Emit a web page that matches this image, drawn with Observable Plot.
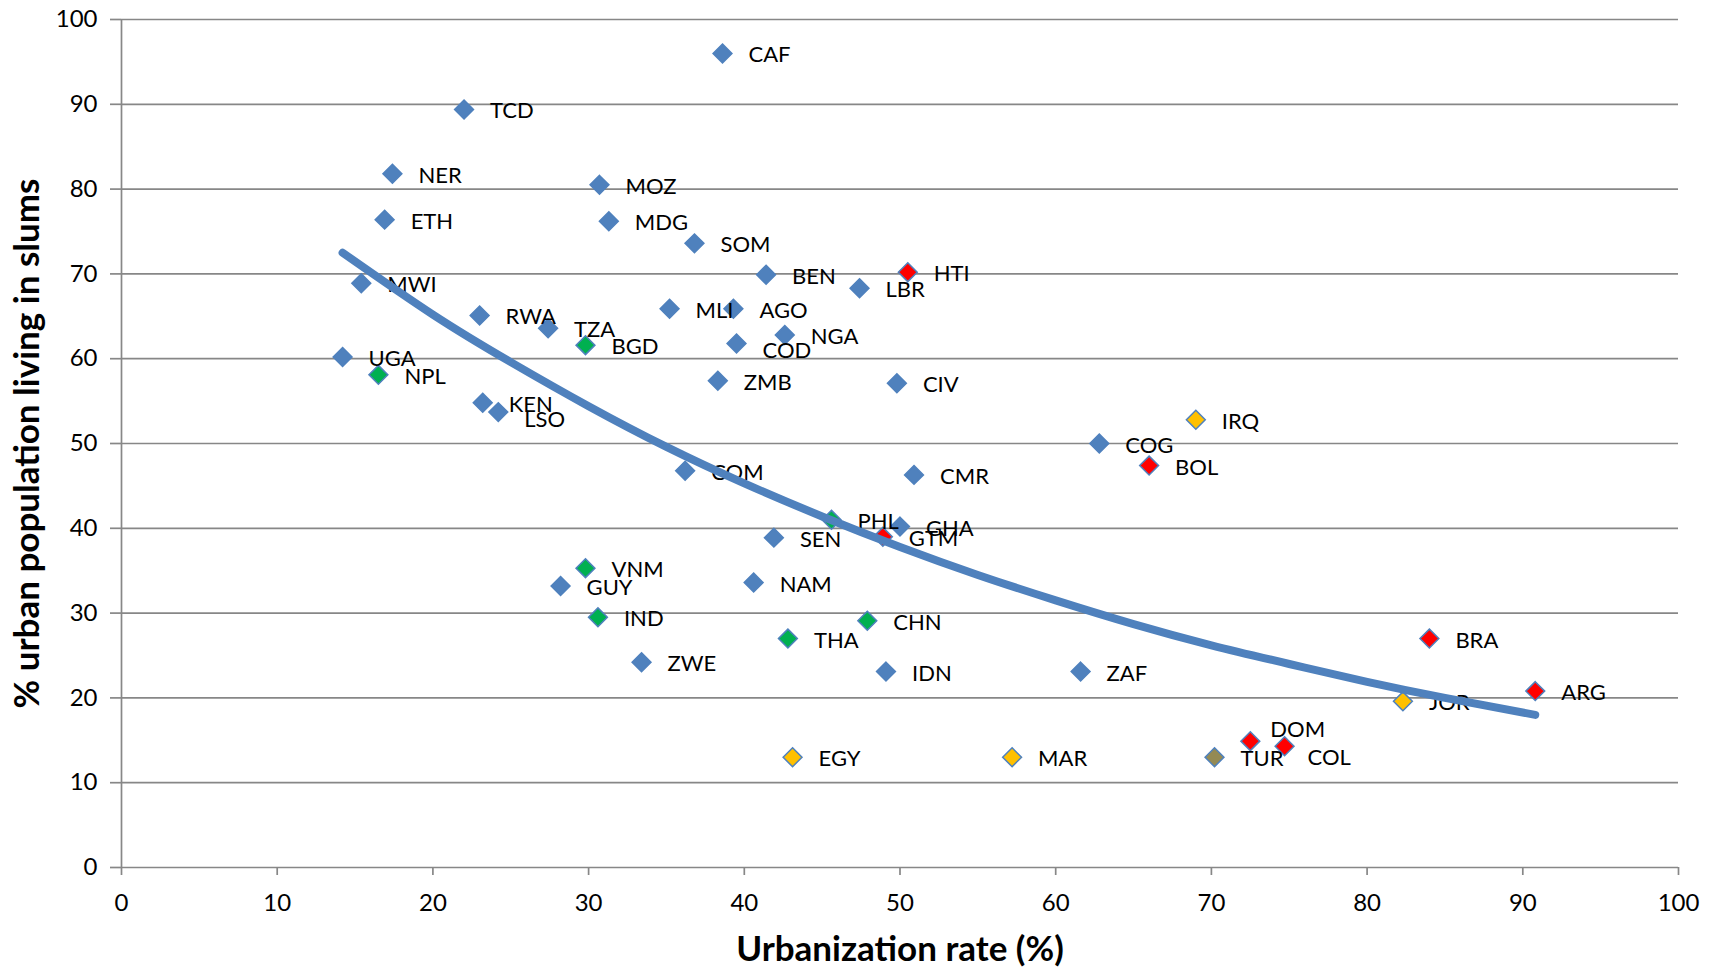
<!DOCTYPE html>
<html><head><meta charset="utf-8">
<script src="https://cdn.jsdelivr.net/npm/d3@7"></script>
<script src="https://cdn.jsdelivr.net/npm/@observablehq/plot@0.6"></script>
<style>
body{margin:0;background:#fff;}
#chart svg{font-family:Lato, "Open Sans", sans-serif;}
</style>
</head><body><div id="chart"></div>
<script>
// Country codes, urbanization rate (%), % urban population living in slums, region group
const codes = ["CAF","TCD","NER","ETH","MOZ","MDG","SOM","BEN","HTI","LBR","MWI","MLI","AGO","RWA","TZA","BGD","NGA","COD","UGA","NPL","ZMB","CIV","KEN","LSO","IRQ","COG","BOL","CMR","COM","PHL","GHA","GTM","SEN","VNM","GUY","NAM","IND","CHN","THA","ZWE","IDN","ZAF","BRA","JOR","ARG","DOM","COL","TUR","EGY","MAR"];
const urbanRate = [38.6,22.0,17.4,16.9,30.7,31.3,36.8,41.4,50.5,47.4,15.4,35.2,39.3,23.0,27.4,29.8,42.6,39.5,14.2,16.5,38.3,49.8,23.2,24.2,69.0,62.8,66.0,50.9,36.2,45.6,50.0,48.9,41.9,29.8,28.2,40.6,30.6,47.9,42.8,33.4,49.1,61.6,84.0,82.3,90.8,72.5,74.7,70.2,43.1,57.2];
const slumShare = [96.0,89.4,81.8,76.4,80.5,76.2,73.6,69.9,70.2,68.3,68.9,65.9,65.9,65.1,63.6,61.6,62.8,61.8,60.2,58.1,57.4,57.1,54.8,53.7,52.8,50.0,47.4,46.3,46.8,41.0,40.2,39.0,38.9,35.3,33.2,33.6,29.5,29.1,27.0,24.2,23.1,23.1,27.0,19.6,20.8,14.9,14.3,13.0,13.0,13.0];
const region = ["SSA","SSA","SSA","SSA","SSA","SSA","SSA","SSA","LAC","SSA","SSA","SSA","SSA","SSA","SSA","ASIA","SSA","SSA","SSA","ASIA","SSA","SSA","SSA","SSA","MENA","SSA","LAC","SSA","SSA","ASIA","SSA","LAC","SSA","ASIA","SSA","SSA","ASIA","ASIA","ASIA","SSA","SSA","SSA","LAC","MENA","LAC","LAC","LAC","EUR","MENA","MENA"];
const groupNames = ["SSA","ASIA","LAC","MENA","EUR"];
const groupColors = ["#4F81BD","#00B050","#FF0000","#FFC000","#948A54"];

// Trend curve
const trendX = [14.2,20,25,30,35,40,45,50,55,60,65,70,75,80,85,90.8];
const trendY = [72.5,65.2,59.6,54.4,49.6,45.3,41.4,37.8,34.5,31.5,28.7,26.2,24.0,21.9,20.0,18.0];

const xTicks = [0,10,20,30,40,50,60,70,80,90,100];
const yTicks = [0,10,20,30,40,50,60,70,80,90,100];

const data = codes.map((c,i)=>({code:c, x:urbanRate[i], y:slumShare[i], g:region[i]}));
const trend = trendX.map((x,i)=>({x, y:trendY[i]}));

// label placement tweaks (styling only)
const nudges = {COD:[26,8], LSO:[26,8], DOM:[20,-11], COL:[23,12]};
const gridColor = "#878787";
const labelSize = 22;

const labelMarks = [
  Plot.text(data.filter(d=>!nudges[d.code]), {x:"x", y:"y", text:"code", textAnchor:"start", dx:26, dy:2, fontSize:labelSize, fill:"#000"})
];
for (const [code,[dx,dy]] of Object.entries(nudges)) {
  labelMarks.push(Plot.text(data.filter(d=>d.code===code), {x:"x", y:"y", text:"code", textAnchor:"start", dx, dy, fontSize:labelSize, fill:"#000"}));
}

const chart = Plot.plot({
  width:1719, height:967,
  marginLeft:121, marginRight:41, marginTop:19, marginBottom:100,
  style:{fontFamily:"Lato, 'Open Sans', sans-serif", background:"#fff", overflow:"visible"},
  x:{domain:[0,100]},
  y:{domain:[0,100]},
  color:{type:"ordinal", domain:groupNames, range:groupColors},
  marks:[
    Plot.ruleY(yTicks, {stroke:gridColor, strokeWidth:1.7}),
    Plot.ruleX([0], {stroke:gridColor, strokeWidth:1.7}),
    Plot.axisY(yTicks, {anchor:"left", tickSize:11, tickPadding:13, fontSize:24, stroke:gridColor, strokeWidth:1.7, fill:"#000", label:null}),
    Plot.axisX(xTicks, {anchor:"bottom", tickSize:8, tickPadding:18, fontSize:24, stroke:gridColor, strokeWidth:1.7, fill:"#000", label:null}),
    Plot.dot(data, {x:"x", y:"y", symbol:"diamond2", r:8.5, fill:"g", stroke:"#4F81BD", strokeWidth:1.5}),
    ...labelMarks,
    Plot.line(trend, {x:"x", y:"y", stroke:"#4F81BD", strokeWidth:8, curve:"natural", strokeLinecap:"round"}),
    Plot.text(["Urbanization rate (%)"], {text:d=>d, frameAnchor:"bottom", textAnchor:"middle", lineAnchor:"middle", dy:82, fontSize:35, fontWeight:"bold", fill:"#000"}),
    Plot.text(["% urban population living in slums"], {text:d=>d, frameAnchor:"left", textAnchor:"middle", lineAnchor:"middle", dx:-94, rotate:-90, fontSize:35, fontWeight:"bold", fill:"#000"})
  ]
});
document.getElementById("chart").append(chart);
</script>
</body></html>
